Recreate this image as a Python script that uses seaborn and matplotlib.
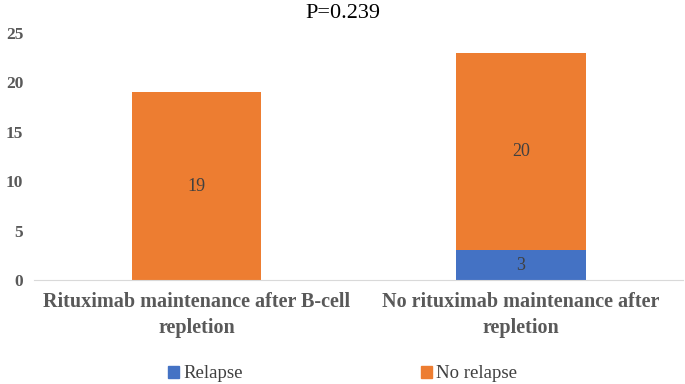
import matplotlib
matplotlib.use("Agg")
import matplotlib.pyplot as plt
import pandas as pd
import seaborn as sns
from matplotlib.patches import Patch

sns.set_style("white")
plt.rcParams['font.family'] = ['Liberation Serif', 'DejaVu Serif']

# data
groups = ["Rituximab maintenance after B-cell\nrepletion",
          "No rituximab maintenance after\nrepletion"]
relapse = [0, 3]
no_relapse = [19, 20]
yticks = [0, 5, 10, 15, 20, 25]

blue = "#4472C4"
orange = "#ED7D31"

df = pd.DataFrame({"group": groups, "Relapse": relapse, "No relapse": no_relapse})
df["total"] = df["Relapse"] + df["No relapse"]

fig = plt.figure(figsize=(6.85, 3.84), dpi=100)
ax = fig.add_axes([0.05, 0.271, 0.947, 0.643])

# stacked bars: total in orange, relapse in blue on top of it
sns.barplot(data=df, x="group", y="total", color=orange, width=0.4,
            saturation=1, linewidth=0, ax=ax)
sns.barplot(data=df, x="group", y="Relapse", color=blue, width=0.4,
            saturation=1, linewidth=0, ax=ax)

# value labels
for i, row in df.iterrows():
    if row["Relapse"] > 0:
        ax.text(i, row["Relapse"] / 2, str(row["Relapse"]), ha="center",
                va="center", fontsize=13, color="#404040")
    ax.text(i, row["Relapse"] + row["No relapse"] / 2, str(row["No relapse"]),
            ha="center", va="center", fontsize=13, color="#404040")

ax.set_ylim(0, 25)
ax.set_xlim(-0.5, 1.5)
ax.set_yticks(yticks)
ax.set_xlabel("")
ax.set_ylabel("")
ax.tick_params(axis="both", length=0, colors="#595959")
for lab in ax.get_yticklabels():
    lab.set_fontweight("bold")
    lab.set_fontsize(12.5)
for lab in ax.get_xticklabels():
    lab.set_fontweight("bold")
    lab.set_fontsize(14.5)
    lab.set_linespacing(1.35)
ax.tick_params(axis="x", pad=9)
ax.tick_params(axis="y", pad=8)
for s in ["top", "right", "left"]:
    ax.spines[s].set_visible(False)
ax.spines["bottom"].set_color("#D9D9D9")

fig.text(0.5, 0.965, "P=0.239", ha="center", va="center", fontsize=16, color="black")

handles = [Patch(color=blue, label="Relapse"), Patch(color=orange, label="No relapse")]
fig.legend(handles=handles, loc="lower center", bbox_to_anchor=(0.5, -0.04), ncol=2,
           frameon=False, fontsize=13.5, handlelength=0.6, handleheight=0.6,
           handletextpad=0.2, columnspacing=9.5, labelcolor="#404040")

fig.savefig("out.png", dpi=100)
